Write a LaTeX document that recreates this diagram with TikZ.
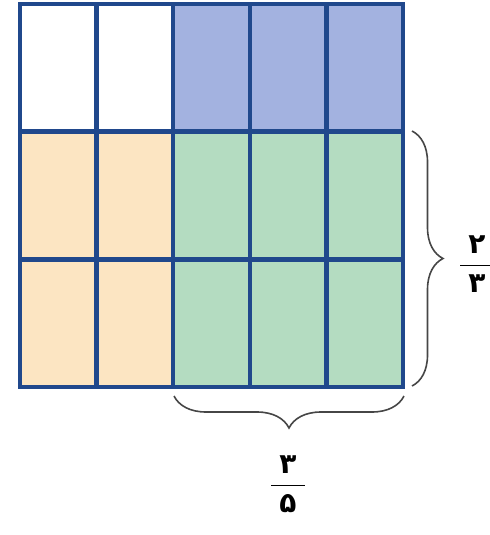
\documentclass[tikz,border=0pt]{standalone}
\usepackage{fontspec}
\usetikzlibrary{decorations.pathreplacing}
\newfontfamily\arabicfont[Script=Arabic]{DejaVu Sans}
\definecolor{cLine}{RGB}{32,72,140}
\definecolor{cBlue}{RGB}{163,178,224}
\definecolor{cYel}{RGB}{252,229,194}
\definecolor{cGrn}{RGB}{180,220,193}
\newcommand{\pfrac}[2]{$\displaystyle\frac{\hbox{\kern4pt\arabicfont\bfseries #1\rule[-3pt]{0pt}{3pt}\kern4pt}}{\hbox{\kern4pt\arabicfont\bfseries #2\rule{0pt}{12pt}\kern4pt}}$}
\tikzset{
  gridline/.style={cLine,line width=2.2pt,line cap=rect},
  bracket/.style={decorate,gray!55!black,line width=0.8pt},
  fraclabel/.style={inner sep=0pt,font=\fontsize{14}{16}\selectfont}
}
\begin{document}
\begin{tikzpicture}[x=0.5pt,y=-0.5pt]
\useasboundingbox (0,0) rectangle (489,535);
\coordinate (tl) at (20,4);
\coordinate (br) at (403,387);
\fill[cBlue] (173.2,4) rectangle (403,131.7);
\fill[cYel] (20,131.7) rectangle (173.2,387);
\fill[cGrn] (173.2,131.7) rectangle (403,387);
\foreach \x in {20,96.6,173.2,249.8,326.4,403}
  \draw[gridline] (\x,4) -- (\x,387);
\foreach \y in {4,131.7,259.3,387}
  \draw[gridline] (20,\y) -- (403,\y);
% braces
\draw[bracket,decoration={brace,amplitude=15.5pt}] (412,131) -- (412,386);
\draw[bracket,decoration={brace,mirror,amplitude=16pt}] (174,396) -- (404,396);
\node[fraclabel] (fracRight) at (477,264) {\pfrac{۲}{۳}};
\node[fraclabel] (fracBottom) at (288,484) {\pfrac{۳}{۵}};
\end{tikzpicture}
\end{document}
